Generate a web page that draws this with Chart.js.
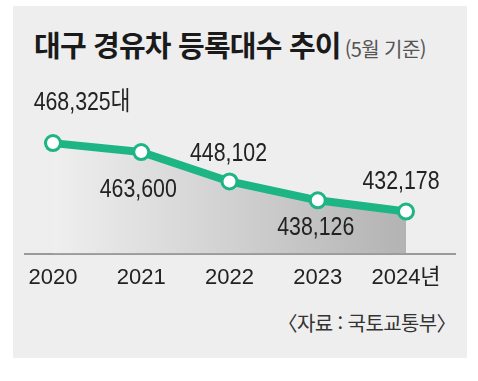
<!DOCTYPE html>
<html lang="ko">
<head>
<meta charset="utf-8">
<script src="https://cdn.jsdelivr.net/npm/chart.js@4"></script>
<style>
  html, body { margin: 0; padding: 0; background: #fff; }
  #wrap { position: relative; width: 478px; height: 381px; overflow: hidden; }
  #panel { position: absolute; left: 13px; top: 6px; width: 454px; height: 352px; background: #eeeeee; }
  #title { position: absolute; left: 34px; top: 29px; line-height: 30px; font-family: "Noto Sans CJK KR", sans-serif;
           font-weight: 700; font-size: 29px; color: #1a1a1a; white-space: nowrap; letter-spacing: -0.8px; }
  #title span { font-weight: 400; font-size: 20px; color: #555; margin-left: 4px; letter-spacing: -0.6px; }
  #source { position: absolute; right: 22px; top: 308px; line-height: 30px; font-family: "Noto Sans CJK KR", sans-serif;
            font-size: 20px; color: #333; white-space: nowrap; letter-spacing: -0.6px; }
  #chart { position: absolute; left: 0; top: 0; }
</style>
</head>
<body>
<div id="wrap">
  <div id="panel"></div>
  <div id="title">대구 경유차 등록대수 추이<span>(5월 기준)</span></div>
  <div id="source">〈자료 : 국토교통부〉</div>
  <canvas id="chart" width="478" height="381"></canvas>
</div>
<script>
/***********************
 * DATA
 ***********************/
const years = [2020, 2021, 2022, 2023, 2024];
const registered = [468325, 463600, 448102, 438126, 432178];
const valueLabels = ["468,325대", "463,600", "448,102", "438,126", "432,178"];
const yearLabels = ["2020", "2021", "2022", "2023", "2024년"];

// label placement relative to each point (style only)
const labelShift = [[29, -40], [-3, 38], [-1, -28], [-2, 28], [-5, -30]];

const GREEN = "#1db584";
const NUM_FONT = '"Liberation Sans", Arial, "Noto Sans CJK KR", sans-serif';

/***********************
 * PLUGINS
 ***********************/
// value labels, drawn slightly condensed like the original print type
const valueLabelPlugin = {
    id: "valueLabels",
    afterDatasetsDraw(chart) {
        const ctx = chart.ctx;
        const pts = chart.getDatasetMeta(0).data;
        const sx = 0.82;
        ctx.save();
        ctx.font = `26px ${NUM_FONT}`;
        ctx.fillStyle = "#222";
        ctx.textAlign = "center";
        ctx.textBaseline = "middle";
        pts.forEach((p, i) => {
            const x = p.x + labelShift[i][0];
            const y = p.y + labelShift[i][1];
            ctx.save();
            ctx.translate(x, y);
            ctx.scale(sx, 1);
            ctx.fillText(valueLabels[i], 0, 0);
            ctx.restore();
        });
        ctx.restore();
    }
};

function areaGradient(context) {
    const area = context.chart.chartArea;
    if (!area) return "#d0d0d0";
    const g = context.chart.ctx.createLinearGradient(area.left + 28, 0, area.left + 381, 0);
    g.addColorStop(0, "#efefef");
    g.addColorStop(1, "#b3b3b3");
    return g;
}

/***********************
 * CHART
 ***********************/
new Chart(document.getElementById("chart"), {
    type: "line",
    data: {
        datasets: [{
            data: years.map((y, i) => ({ x: y, y: registered[i] })),
            borderColor: GREEN,
            borderWidth: 8,
            borderJoinStyle: "round",
            tension: 0,
            fill: "start",
            backgroundColor: areaGradient,
            pointRadius: 7.5,
            pointBorderWidth: 3,
            pointBackgroundColor: "#fff",
            pointBorderColor: GREEN
        }]
    },
    options: {
        responsive: false,
        animation: false,
        layout: { padding: { left: 25, right: 23, top: 121, bottom: 79 } },
        plugins: { legend: { display: false }, tooltip: { enabled: false } },
        scales: {
            x: {
                type: "linear",
                min: 2019.683,
                max: 2024.555,
                afterBuildTicks: scale => { scale.ticks = years.map(v => ({ value: v })); },
                grid: { display: false, drawTicks: false },
                border: { display: true, color: "#9a9a9a", width: 2 },
                ticks: {
                    padding: 11,
                    color: "#222",
                    font: { family: NUM_FONT, size: 22 },
                    callback: (v) => yearLabels[years.indexOf(v)]
                }
            },
            y: {
                display: false,
                min: 410000,
                max: 480000
            }
        }
    },
    plugins: [valueLabelPlugin]
});
</script>
</body>
</html>
